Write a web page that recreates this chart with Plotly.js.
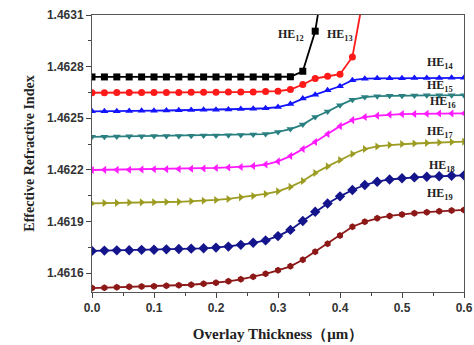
<!DOCTYPE html>
<html>
<head>
<meta charset="utf-8">
<script src="https://cdn.plot.ly/plotly-3.0.1.min.js"></script>
<style>html,body{margin:0;padding:0;background:#fff;}#chart{width:474px;height:345px;}</style>
</head>
<body>
<div id="chart"></div>
<script>
var xFull = [0.00,0.02,0.04,0.06,0.08,0.10,0.12,0.14,0.16,0.18,0.20,0.22,0.24,0.26,0.28,0.30,0.32,0.34,0.36,0.38,0.40,0.42,0.44,0.46,0.48,0.50,0.52,0.54,0.56,0.58,0.60];
var x12 = [0.00,0.02,0.04,0.06,0.08,0.10,0.12,0.14,0.16,0.18,0.20,0.22,0.24,0.26,0.28,0.30,0.32,0.34,0.36,0.38];
var x13 = [0.00,0.02,0.04,0.06,0.08,0.10,0.12,0.14,0.16,0.18,0.20,0.22,0.24,0.26,0.28,0.30,0.32,0.34,0.36,0.38,0.40,0.42,0.44];

var he12 = [1.46274,1.46274,1.46274,1.46274,1.46274,1.46274,1.46274,1.46274,1.46274,1.46274,1.46274,1.46274,1.46274,1.46274,1.46274,1.46274,1.462741,1.462773,1.463006,1.46345];
var he13 = [1.462648,1.462648,1.462649,1.462649,1.462649,1.46265,1.46265,1.46265,1.462651,1.462651,1.462651,1.462652,1.462652,1.462653,1.462655,1.462657,1.462667,1.462696,1.462731,1.462744,1.462756,1.462856,1.46325];
var he14 = [1.46254,1.46254,1.462541,1.462542,1.462543,1.462544,1.462545,1.462546,1.462548,1.462549,1.46255,1.462551,1.462553,1.462555,1.462558,1.462565,1.462582,1.462614,1.462637,1.462663,1.462686,1.462721,1.46273,1.462732,1.462733,1.462733,1.462734,1.462734,1.462734,1.462735,1.462735];
var he15 = [1.462392,1.462393,1.462394,1.462395,1.462395,1.462396,1.462397,1.462397,1.462398,1.462399,1.4624,1.462401,1.462402,1.462405,1.462408,1.46242,1.462437,1.462463,1.462507,1.462539,1.462576,1.462608,1.462623,1.462628,1.46263,1.462631,1.462632,1.462633,1.462633,1.462634,1.462634];
var he16 = [1.462199,1.4622,1.4622,1.462201,1.462202,1.462203,1.462204,1.462205,1.462206,1.462208,1.462211,1.462214,1.462217,1.462222,1.462231,1.462249,1.46228,1.462321,1.462362,1.462408,1.462454,1.462489,1.462507,1.462515,1.462521,1.462524,1.462525,1.462526,1.462527,1.462527,1.462528];
var he17 = [1.462005,1.462007,1.462008,1.46201,1.462011,1.462012,1.462013,1.462014,1.462017,1.46202,1.462025,1.462031,1.46204,1.462048,1.46206,1.462075,1.462101,1.462135,1.462182,1.46222,1.462257,1.462292,1.462321,1.462336,1.462344,1.46235,1.462353,1.462356,1.462359,1.462362,1.462364];
var he18 = [1.461729,1.4617305,1.461732,1.461733,1.461735,1.461736,1.461738,1.46174,1.461742,1.461744,1.461748,1.461754,1.461764,1.461776,1.46179,1.461815,1.461851,1.461903,1.461956,1.462004,1.462046,1.462083,1.462112,1.462131,1.462144,1.462151,1.462156,1.46216,1.462163,1.462166,1.462168];
var he19 = [1.461513,1.461515,1.461518,1.461521,1.461522,1.461523,1.461526,1.461529,1.461532,1.461538,1.461544,1.461552,1.461564,1.461579,1.461596,1.461616,1.461639,1.461677,1.461724,1.46177,1.461819,1.461869,1.461898,1.461918,1.461932,1.461941,1.461948,1.461954,1.461959,1.461963,1.461967];

var modeNames = ['12','13','14','15','16','17','18','19'];
var labelX = [0.321,0.400,0.562,0.562,0.566,0.562,0.564,0.562];
var labelY = [1.462982,1.462982,1.46282,1.462685,1.462595,1.462421,1.462222,1.46206];

var yTicks = [1.4616,1.4619,1.4622,1.4625,1.4628,1.4631];
var xTicks = [0.0,0.1,0.2,0.3,0.4,0.5,0.6];

var series = [
  {x:x12,  y:he12, color:'#000000', symbol:'square'},
  {x:x13,  y:he13, color:'#ff1a1a', symbol:'circle'},
  {x:xFull,y:he14, color:'#1414ff', symbol:'triangle-up'},
  {x:xFull,y:he15, color:'#2a8080', symbol:'triangle-down'},
  {x:xFull,y:he16, color:'#ff1aff', symbol:'triangle-left'},
  {x:xFull,y:he17, color:'#9c9c22', symbol:'triangle-right'},
  {x:xFull,y:he18, color:'#14148c', symbol:'diamond'},
  {x:xFull,y:he19, color:'#8c1818', symbol:'hexagon'}
];

var traces = series.map(function(s){
  return {x:s.x, y:s.y, type:'scatter', mode:'lines+markers',
    line:{color:s.color, width:1.8},
    marker:{color:s.color, symbol:s.symbol, size:s.symbol==='diamond'?8:7, line:{width:0}},
    cliponaxis:true, showlegend:false, hoverinfo:'skip'};
});

var annotations = modeNames.map(function(n,i){
  return {x:labelX[i], y:labelY[i], xref:'x', yref:'y', text:'HE<sub>'+n+'</sub>',
    showarrow:false, font:{family:'Liberation Serif, Times New Roman, serif', size:12, color:'#222', weight:'bold'}};
});

var layout = {
  width:474, height:345,
  margin:{l:92, r:10, t:15, b:53},
  paper_bgcolor:'#fff', plot_bgcolor:'#fff',
  xaxis:{range:[0,0.6], tickvals:xTicks, ticktext:xTicks.map(function(v){return v.toFixed(1);}),
    ticks:'outside', ticklen:5, tickwidth:1, tickcolor:'#444',
    minor:{tickvals:[0.05,0.15,0.25,0.35,0.45,0.55], ticks:'outside', ticklen:3, tickcolor:'#444'},
    showline:true, linecolor:'#555', linewidth:1, mirror:true, showgrid:false, zeroline:false,
    tickfont:{family:'Liberation Sans, Arial, sans-serif', size:12, color:'#333', weight:'bold'},
    title:{text:'Overlay Thickness（μm）', standoff:14,
      font:{family:'Liberation Serif, Times New Roman, serif', size:15, color:'#222', weight:'bold'}}},
  yaxis:{range:[1.46149,1.4631], tickvals:yTicks, ticktext:yTicks.map(function(v){return v.toFixed(4);}),
    ticks:'outside', ticklen:5, tickwidth:1, tickcolor:'#444',
    minor:{tickvals:[1.46175,1.46205,1.46235,1.46265,1.46295], ticks:'outside', ticklen:3, tickcolor:'#444'},
    showline:true, linecolor:'#555', linewidth:1, mirror:true, showgrid:false, zeroline:false,
    tickfont:{family:'Liberation Sans, Arial, sans-serif', size:12, color:'#333', weight:'bold'},
    title:{text:'Effective Refractive Index', standoff:8,
      font:{family:'Liberation Serif, Times New Roman, serif', size:14, color:'#222', weight:'bold'}}},
  annotations:annotations
};

Plotly.newPlot('chart', traces, layout, {staticPlot:true, displayModeBar:false});
</script>
</body>
</html>
